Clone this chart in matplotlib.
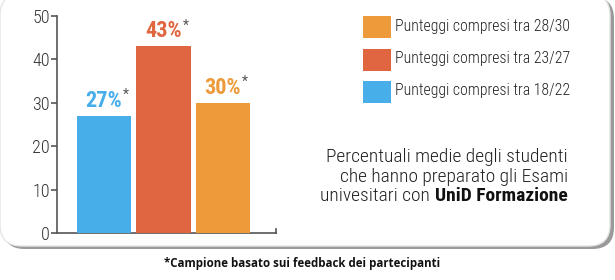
import matplotlib.pyplot as plt
from matplotlib.patches import FancyBboxPatch, Rectangle
from matplotlib import font_manager

# data
values = [27, 43, 30]
value_labels = ["27%", "43%", "30%"]
colors = ["#47AEEA", "#E06641", "#EC9A3A"]
legend_labels = ["Punteggi compresi tra 28/30", "Punteggi compresi tra 23/27", "Punteggi compresi tra 18/22"]
legend_colors = ["#EC9A3A", "#E06641", "#47AEEA"]
yticks = [0, 10, 20, 30, 40, 50]
desc_lines = ["Percentuali medie degli studenti", "che hanno preparato gli Esami"]
desc_last = ("univesitari con ", "UniD Formazione")
footnote = "*Campione basato sui feedback dei partecipanti"

names = {f.name for f in font_manager.fontManager.ttflist}
narrow = "Liberation Sans"
for cand in ["Roboto Condensed", "Archivo Narrow", "Sofia Sans Condensed"]:
    if cand in names:
        narrow = cand
        break

W, H = 615, 280
fig = plt.figure(figsize=(W / 100, H / 100), dpi=100)
fig.patch.set_facecolor("white")


def fx(px):
    return px / W


def fy(py):
    return 1 - py / H


# card with shadow
shadow = FancyBboxPatch((fx(3), fy(249)), fx(611), 252 / H,
                        boxstyle="round,pad=0,rounding_size=0.035",
                        transform=fig.transFigure, facecolor="#9a9a9a",
                        edgecolor="none", mutation_aspect=W / H, zorder=0)
fig.patches.append(shadow)
card = FancyBboxPatch((fx(0), fy(246)), fx(610), 252 / H,
                      boxstyle="round,pad=0,rounding_size=0.035",
                      transform=fig.transFigure, facecolor="white",
                      edgecolor="#e6e6e6", linewidth=1.0, mutation_aspect=W / H, zorder=1)
fig.patches.append(card)

ax = fig.add_axes([fx(57), fy(233), fx(276) - fx(57), fy(16) - fy(233)])
ax.set_facecolor("none")
ax.set_zorder(2)
x = list(range(len(values)))
ax.bar(x, values, width=0.91, color=colors, zorder=3)
ax.set_xlim(-0.79, 2.89)
ax.set_ylim(0, 50)
ax.set_yticks(yticks)
ax.set_yticklabels([str(t) for t in yticks], fontfamily=narrow, fontsize=13,
                   fontweight="light", color="#333333")
ax.set_xticks([])
for s in ["top", "right"]:
    ax.spines[s].set_visible(False)
for s in ["left", "bottom"]:
    ax.spines[s].set_color("#555555")
    ax.spines[s].set_linewidth(1.2)
ax.tick_params(axis="y", length=4, width=1.2, color="#555555", pad=1)
ax.plot([2.89, 2.89], [0, 0.9], color="#555555", lw=1.2, clip_on=False)

for xi, v, lab, c in zip(x, values, value_labels, colors):
    t = ax.annotate(lab, (xi, v), xytext=(0, 3), textcoords="offset points",
                    ha="center", va="bottom", fontsize=16, fontweight="bold",
                    fontfamily=narrow, color=c)
    ax.annotate("*", (1, 1), xycoords=t, xytext=(0.5, 1), textcoords="offset points",
                ha="left", va="top", fontsize=10, color="#555555", fontfamily=narrow)

# legend
for i, (lab, c) in enumerate(zip(legend_labels, legend_colors)):
    top = 16 + i * 32.5
    fig.patches.append(Rectangle((fx(363), fy(top + 22)), fx(28), 22 / H,
                                 transform=fig.transFigure, facecolor=c,
                                 edgecolor="none", zorder=3))
    fig.text(fx(395), fy(top + 10), lab, fontsize=11.3, fontfamily=narrow,
             fontweight="light", color="#222222", va="center", ha="left", zorder=3)

# description
for i, line in enumerate(desc_lines):
    fig.text(fx(568), fy(157 + i * 19.5), line, fontsize=14, fontweight="light",
             fontfamily=narrow, color="#222222", ha="right", va="center", zorder=3)
bold = fig.text(fx(568), fy(196), desc_last[1], fontsize=14, fontweight="bold",
                fontfamily=narrow, color="#111111", ha="right", va="center", zorder=3)
fig.canvas.draw()
bb = bold.get_window_extent()
fig.text(bb.x0 / W - fx(1.5), fy(196), desc_last[0], fontsize=14, fontweight="light",
         fontfamily=narrow, color="#222222", ha="right", va="center", zorder=3)

# footnote
fig.text(fx(302), fy(264), footnote, fontsize=8.3,
         fontweight="bold", fontfamily="Open Sans", color="#111111", ha="center", va="center")

fig.savefig("out.png", dpi=100)
